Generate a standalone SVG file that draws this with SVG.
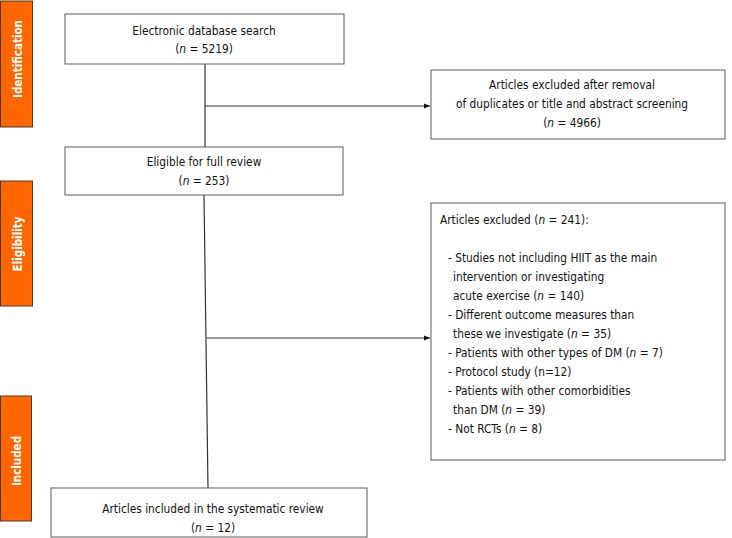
<svg xmlns="http://www.w3.org/2000/svg" width="732" height="538" viewBox="0 0 732 538">
<style>
.box{fill:#fff;stroke:#5a5a5a;stroke-width:1}
.side{fill:#ff6600;stroke:#4a3a30;stroke-width:1}
.t{font-family:"DejaVu Sans Condensed","DejaVu Sans",sans-serif;font-size:11.8px;fill:#111}
.c{text-anchor:middle}
.s{font-family:"DejaVu Sans Condensed","DejaVu Sans",sans-serif;font-size:11.5px;font-weight:bold;fill:#fff;text-anchor:middle}
.ln{stroke:#333;stroke-width:1.2;fill:none}
</style>
<defs>
<marker id="ah" markerWidth="6" markerHeight="6" refX="6" refY="3" orient="auto" markerUnits="userSpaceOnUse">
<path d="M0,0.5 L6,3 L0,5.5 Z" fill="#111"/>
</marker>
</defs>
<g id="side-identification">
<rect class="side" x="0.5" y="1" width="32" height="126"/>
<text class="s" transform="translate(21.5,59) rotate(-90)">Identification</text>
</g>
<g id="side-eligibility">
<rect class="side" x="0.5" y="181" width="32" height="125"/>
<text class="s" transform="translate(21.5,244) rotate(-90)">Eligibility</text>
</g>
<g id="side-included">
<rect class="side" x="0.5" y="396" width="31" height="125"/>
<text class="s" transform="translate(21,461) rotate(-90)">Included</text>
</g>
<g id="connectors">
<line class="ln" x1="205" y1="64" x2="205" y2="147"/>
<line class="ln" x1="205" y1="106" x2="430" y2="106" marker-end="url(#ah)"/>
<line class="ln" x1="204" y1="195" x2="208" y2="488"/>
<line class="ln" x1="207" y1="338" x2="430" y2="338" marker-end="url(#ah)"/>
</g>
<g id="search">
<rect class="box" x="65" y="14" width="279" height="50"/>
<text class="t c" x="204" y="35">Electronic database search</text>
<text class="t c" x="204" y="53">(<tspan font-style="italic">n</tspan> = 5219)</text>
</g>
<g id="excluded-1">
<rect class="box" x="431" y="70" width="294" height="69"/>
<text class="t c" x="572" y="89">Articles excluded after removal</text>
<text class="t c" x="572" y="108">of duplicates or title and abstract screening</text>
<text class="t c" x="572" y="127">(<tspan font-style="italic">n</tspan> = 4966)</text>
</g>
<g id="eligible">
<rect class="box" x="65" y="147" width="278" height="48"/>
<text class="t c" x="204" y="166">Eligible for full review</text>
<text class="t c" x="204" y="185">(<tspan font-style="italic">n</tspan> = 253)</text>
</g>
<g id="excluded-2">
<rect class="box" x="431" y="203" width="294" height="257"/>
<text class="t" x="440" y="224">Articles excluded (<tspan font-style="italic">n</tspan> = 241):</text>
<text class="t" x="448" y="262">- Studies not including HIIT as the main</text>
<text class="t" x="453" y="281">intervention or investigating</text>
<text class="t" x="453" y="300">acute exercise (<tspan font-style="italic">n</tspan> = 140)</text>
<text class="t" x="448" y="319">- Different outcome measures than</text>
<text class="t" x="453" y="338">these we investigate (<tspan font-style="italic">n</tspan> = 35)</text>
<text class="t" x="448" y="357">- Patients with other types of DM (<tspan font-style="italic">n</tspan> = 7)</text>
<text class="t" x="448" y="376">- Protocol study (n=12)</text>
<text class="t" x="448" y="395">- Patients with other comorbidities</text>
<text class="t" x="453" y="414">than DM (<tspan font-style="italic">n</tspan> = 39)</text>
<text class="t" x="448" y="433">- Not RCTs (<tspan font-style="italic">n</tspan> = 8)</text>
</g>
<g id="included">
<rect class="box" x="51" y="488" width="316" height="49"/>
<text class="t c" x="213" y="513">Articles included in the systematic review</text>
<text class="t c" x="213" y="532">(<tspan font-style="italic">n</tspan> = 12)</text>
</g>
</svg>
